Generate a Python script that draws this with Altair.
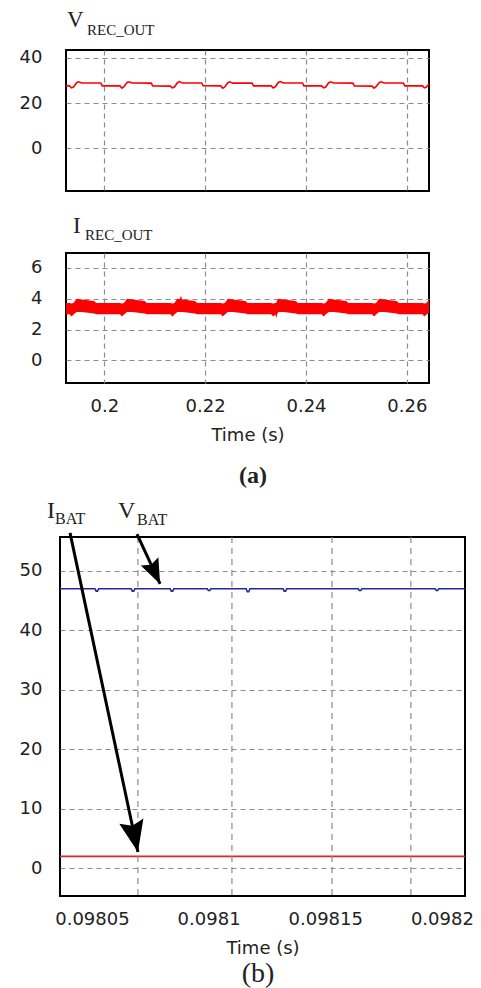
import altair as alt
import pandas as pd

# ---------------- (a) top panel: V_REC_OUT ----------------
v_rec_t = [0.1924, 0.1931, 0.1935, 0.1939, 0.1945, 0.1949, 0.1955, 0.1993, 0.1996,
           0.2031, 0.2035, 0.2039, 0.2045, 0.2049, 0.2055, 0.2093, 0.2096,
           0.2131, 0.2135, 0.2139, 0.2145, 0.2149, 0.2155, 0.2193, 0.2196,
           0.2231, 0.2235, 0.2239, 0.2245, 0.2249, 0.2255, 0.2293, 0.2296,
           0.2331, 0.2335, 0.2339, 0.2345, 0.2349, 0.2355, 0.2393, 0.2396,
           0.2431, 0.2435, 0.2439, 0.2445, 0.2449, 0.2455, 0.2493, 0.2496,
           0.2531, 0.2535, 0.2539, 0.2545, 0.2549, 0.2555, 0.2593, 0.2596,
           0.2631, 0.2635, 0.2639, 0.2644]
v_rec_v = [27.6, 27.6, 26.7, 27.1, 29.0, 29.4, 28.9, 28.9, 27.6,
           27.6, 26.6, 27.2, 29.1, 29.4, 28.9, 28.8, 27.6,
           27.5, 26.7, 27.1, 29.0, 29.5, 28.9, 28.9, 27.7,
           27.6, 26.6, 27.1, 29.0, 29.4, 28.8, 28.9, 27.6,
           27.6, 26.7, 27.2, 29.1, 29.5, 28.9, 28.9, 27.6,
           27.6, 26.7, 27.1, 29.0, 29.4, 28.9, 28.8, 27.6,
           27.5, 26.6, 27.2, 29.0, 29.4, 28.9, 28.9, 27.6,
           27.6, 26.7, 27.1, 28.6]

# ---------------- (a) middle panel: I_REC_OUT ripple band ----------------
i_rec_t = [0.1924, 0.1931, 0.1935, 0.1939, 0.1945, 0.1955, 0.1980, 0.1984,
           0.2031, 0.2035, 0.2039, 0.2045, 0.2055, 0.2080, 0.2084,
           0.2131, 0.2135, 0.2139, 0.2145, 0.2150, 0.2152, 0.2154, 0.2155, 0.2180, 0.2184,
           0.2231, 0.2235, 0.2239, 0.2245, 0.2255, 0.2280, 0.2284,
           0.2331, 0.2335, 0.2339, 0.2341, 0.2343, 0.2345, 0.2355, 0.2380, 0.2384,
           0.2431, 0.2435, 0.2439, 0.2445, 0.2455, 0.2480, 0.2484,
           0.2531, 0.2535, 0.2539, 0.2545, 0.2555, 0.2580, 0.2584,
           0.2631, 0.2635, 0.2639, 0.2644]
i_rec_hi = [3.72, 3.72, 3.70, 3.72, 4.00, 3.95, 3.85, 3.72,
            3.72, 3.70, 3.72, 4.00, 3.95, 3.85, 3.72,
            3.72, 3.70, 3.72, 4.00, 3.98, 4.22, 3.98, 3.95, 3.85, 3.72,
            3.72, 3.70, 3.72, 4.00, 3.95, 3.85, 3.72,
            3.72, 3.70, 3.72, 3.72, 3.90, 4.00, 3.95, 3.85, 3.72,
            3.72, 3.70, 3.72, 4.00, 3.95, 3.85, 3.72,
            3.72, 3.70, 3.72, 4.00, 3.95, 3.85, 3.72,
            3.72, 3.70, 3.72, 3.95]
i_rec_lo = [3.00, 3.00, 2.85, 2.98, 3.15, 3.15, 3.05, 3.00,
            3.00, 2.85, 2.98, 3.15, 3.15, 3.05, 3.00,
            3.00, 2.85, 2.98, 3.15, 3.15, 3.15, 3.15, 3.15, 3.05, 3.00,
            3.00, 2.85, 2.98, 3.15, 3.15, 3.05, 3.00,
            3.00, 2.85, 2.98, 2.75, 3.00, 3.15, 3.15, 3.05, 3.00,
            3.00, 2.85, 2.98, 3.15, 3.15, 3.05, 3.00,
            3.00, 2.85, 2.98, 3.15, 3.15, 3.05, 3.00,
            3.00, 2.85, 2.98, 3.10]

a_ticks = [0.2, 0.22, 0.24, 0.26]

# ---------------- (b) panel: V_BAT / I_BAT ----------------
v_bat_t = [0.0980363,
           0.0980513, 0.0980518, 0.0980524, 0.0980529,
           0.0980668, 0.0980673, 0.0980679, 0.0980684,
           0.0980835, 0.0980840, 0.0980846, 0.0980851,
           0.0980994, 0.0980999, 0.0981005, 0.0981010,
           0.0981161, 0.0981166, 0.0981172, 0.0981177,
           0.0981319, 0.0981324, 0.0981330, 0.0981335,
           0.0981641, 0.0981646, 0.0981652, 0.0981657,
           0.0981971, 0.0981976, 0.0981982, 0.0981987,
           0.0982099]
v_bat_v = [47.0,
           47.0, 46.6, 46.6, 47.0,
           47.0, 46.6, 46.6, 47.0,
           47.0, 46.6, 46.6, 47.0,
           47.0, 46.7, 46.7, 47.0,
           47.0, 46.5, 46.5, 47.0,
           47.0, 46.6, 46.6, 47.0,
           47.0, 46.7, 46.7, 47.0,
           47.0, 46.7, 46.7, 47.0,
           47.0]
i_bat_t = [0.0980363, 0.0982099]
i_bat_v = [1.97, 1.97]

b_ticks = [0.09805, 0.0981, 0.09815, 0.0982]
b_grid_x = [0.0980697, 0.0981100, 0.0981529, 0.0981867]

# annotation arrows (data units): I_BAT, V_BAT
arrow_x0 = [0.0980406, 0.0980693]
arrow_y0 = [56.4, 56.2]
arrow_x1 = [0.0980697, 0.0980792]
arrow_y1 = [2.7, 47.8]

# ---------------- styling ----------------
RED = "#ff0000"
NAVY = "#26269a"
GRID = "#8c8c8c"
TXT = "#222222"
SERIF = "Liberation Serif"
HEAD = "M0,0L-0.78,-2L0,-1.7L0.78,-2Z"

dom_a = [0.1924, 0.2644]
dom_v = [-19.0, 43.5]
dom_i = [-1.46, 6.97]
dom_bx = [0.0980363, 0.0982099]
dom_by = [-4.7, 55.7]

one = pd.DataFrame({"a": [0]})


def label(text, size, x, y, weight="normal", align="left", baseline="alphabetic"):
    return alt.Chart(one).mark_text(
        text=text, font=SERIF, fontSize=size, fontWeight=weight, color=TXT,
        align=align, baseline=baseline
    ).encode(x=alt.value(x), y=alt.value(y))


# panel 1
df_v = pd.DataFrame({"t": v_rec_t, "v": v_rec_v})
p1_line = alt.Chart(df_v).mark_line(color=RED, strokeWidth=1.6).encode(
    x=alt.X("t:Q", scale=alt.Scale(domain=dom_a, nice=False, zero=False),
            axis=alt.Axis(values=a_ticks, labels=False, grid=True, title=None)),
    y=alt.Y("v:Q", scale=alt.Scale(domain=dom_v, nice=False, zero=False),
            axis=alt.Axis(values=[0, 20, 40], grid=True, labelPadding=24, title=None)),
)
p1 = alt.layer(
    p1_line,
    label("V", 23, 1, -23),
    label("REC_OUT", 15, 21, -15),
).properties(width=363, height=141)

# panel 2
df_i = pd.DataFrame({"t": i_rec_t, "hi": i_rec_hi, "lo": i_rec_lo})
p2_band = alt.Chart(df_i).mark_area(color=RED, opacity=1).encode(
    x=alt.X("t:Q", scale=alt.Scale(domain=dom_a, nice=False, zero=False),
            axis=alt.Axis(values=a_ticks, grid=True, format="~g", labelPadding=14,
                          title="Time (s)", titlePadding=11)),
    y=alt.Y("hi:Q", scale=alt.Scale(domain=dom_i, nice=False, zero=False),
            axis=alt.Axis(values=[0, 2, 4, 6], grid=True, labelPadding=24, title=None)),
    y2="lo:Q",
)
p2 = alt.layer(
    p2_band,
    label("I", 23, 7, -20),
    label("REC_OUT", 15, 19, -13),
    label("(a)", 24, 187, 223, weight="bold", align="center", baseline="middle"),
).properties(width=363, height=130)

# panel 3 (axes defined only on the first layer; other layers share the scales)
xb = alt.Scale(domain=dom_bx, nice=False, zero=False)
yb = alt.Scale(domain=dom_by, nice=False, zero=False)

df_vb = pd.DataFrame({"t": v_bat_t, "v": v_bat_v})
p3_v = alt.Chart(df_vb).mark_line(color=NAVY, strokeWidth=1.6).encode(
    x=alt.X("t:Q", scale=xb,
            axis=alt.Axis(values=b_ticks, grid=False, format="~g", labelPadding=14,
                          title="Time (s)", titlePadding=11)),
    y=alt.Y("v:Q", scale=yb,
            axis=alt.Axis(values=[0, 10, 20, 30, 40, 50], grid=True, labelPadding=18, title=None)),
)
df_ib = pd.DataFrame({"t": i_bat_t, "v": i_bat_v})
p3_i = alt.Chart(df_ib).mark_line(color="#e0242a", strokeWidth=1.6).encode(
    x=alt.X("t:Q", scale=xb),
    y=alt.Y("v:Q", scale=yb),
)
df_grid = pd.DataFrame({"t": b_grid_x})
p3_grid = alt.Chart(df_grid).mark_rule(color=GRID, strokeWidth=1.2, strokeDash=[6, 5]).encode(
    x=alt.X("t:Q", scale=xb),
)
df_arrow = pd.DataFrame({"x0": arrow_x0, "y0": arrow_y0, "x1": arrow_x1, "y1": arrow_y1})
p3_shaft = alt.Chart(df_arrow).mark_rule(color="black", strokeWidth=3).encode(
    x=alt.X("x0:Q", scale=xb), x2="x1:Q",
    y=alt.Y("y0:Q", scale=yb), y2="y1:Q",
)
head_i = alt.Chart(df_arrow.iloc[[0]]).mark_point(
    shape=HEAD, size=1000, angle=348, filled=True, color="black", opacity=1
).encode(x=alt.X("x1:Q", scale=xb), y=alt.Y("y1:Q", scale=yb))
head_v = alt.Chart(df_arrow.iloc[[1]]).mark_point(
    shape=HEAD, size=620, angle=335, filled=True, color="black", opacity=1
).encode(x=alt.X("x1:Q", scale=xb), y=alt.Y("y1:Q", scale=yb))

p3 = alt.layer(
    p3_v, p3_i, p3_grid, p3_shaft, head_i, head_v,
    label("I", 24, -13, -19),
    label("BAT", 16, -5, -13),
    label("V", 24, 58, -19),
    label("BAT", 16, 77, -12),
    label("(b)", 28, 198, 437, align="center", baseline="middle"),
).properties(width=405, height=359)

spacer = alt.Chart(one).mark_point(opacity=0).encode(
    x=alt.X("a:Q", axis=None), y=alt.Y("a:Q", axis=None)
).properties(width=1, height=1, view=alt.ViewBackground(stroke="transparent"))

top = alt.hconcat(spacer, alt.vconcat(p1, p2, spacing=62, bounds="flush"),
                  spacing=5, bounds="flush")

chart = alt.vconcat(top, p3, spacing=9).properties(
    padding={"left": 18, "top": 8, "right": 0, "bottom": 0},
    background="white",
).configure_view(
    stroke="black", strokeWidth=2
).configure_axis(
    labelFont="DejaVu Sans", labelFontSize=18, labelColor=TXT,
    titleFont="DejaVu Sans", titleFontSize=18, titleFontWeight="normal", titleColor=TXT,
    gridColor=GRID, gridDash=[5, 4], gridWidth=1.2, gridOpacity=1,
    domain=False, ticks=False, tickSize=0,
)

chart.save("out.html", embed_options={"renderer": "svg", "actions": False})
